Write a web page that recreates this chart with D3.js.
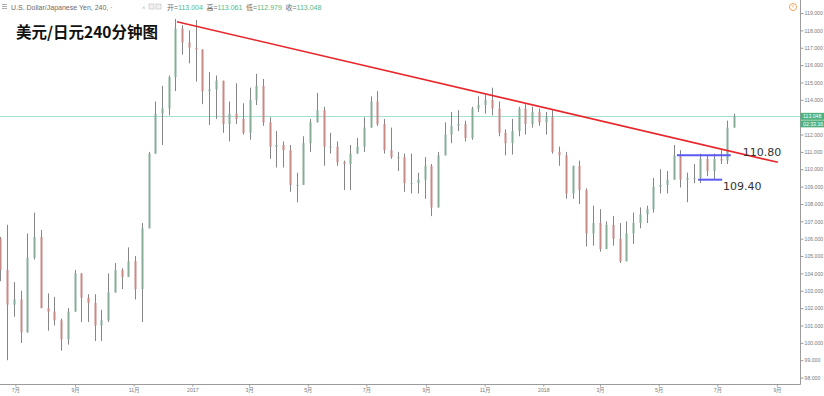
<!DOCTYPE html>
<html lang="zh">
<head>
<meta charset="UTF-8">
<title>美元/日元240分钟图</title>
<style>
  body { margin: 0; background: #fff; }
  svg { display: block; font-family: "Liberation Sans", Arial, sans-serif; }
</style>
<script src="https://cdn.jsdelivr.net/npm/d3@7"></script>
</head>
<body>
<svg id="chart" width="824" height="396"></svg>
<script>
// USD/JPY, one candle per week, first week starts Monday 2016-06-13
var firstWeek = "2016-06-13";
var opens = [
  106.0, 104.2, 102.2, 102.5, 100.6, 104.9, 106.1, 102.0, 101.8, 101.3, 100.2, 101.8, 104.0, 102.6, 102.3,
  101.0, 101.3, 102.9, 104.2, 103.8, 104.7, 103.1, 106.6, 110.9, 113.2, 113.5, 115.3, 118.1, 117.3,
  117.0, 116.9, 114.5, 114.6, 115.1, 112.6, 113.2, 112.9, 112.1, 114.0, 114.8, 112.7, 111.3, 111.4, 111.1,
  109.1, 109.1, 111.5, 112.7, 113.4, 111.3, 111.3, 110.4, 110.3, 110.9, 111.3, 112.4, 113.9, 112.6, 111.1,
  110.7, 110.7, 109.2, 109.2, 109.4, 110.2, 107.8, 110.8, 112.0, 112.5, 112.6, 111.8, 113.5, 113.7, 114.0,
  113.5, 112.1, 111.5, 112.2, 113.5, 112.6, 113.3,
  112.7, 113.0, 111.0, 110.8, 108.6, 110.2, 108.8, 106.3, 106.9, 105.4, 106.8, 106.0, 104.7, 106.3, 106.9,
  107.4, 107.7, 109.0, 109.1, 109.4, 110.8, 109.4, 109.5, 109.5, 110.6, 109.9, 110.6, 110.5, 112.4
];
var highs = [
  106.1, 106.8, 103.5, 103.0, 106.3, 107.5, 106.5, 102.85, 102.65, 101.4, 102.0, 104.2, 104.0, 102.8, 102.8,
  101.9, 104.0, 104.6, 104.3, 105.5, 105.0, 106.9, 111.0, 113.9, 114.8, 115.4, 118.66, 118.3, 118.0,
  118.6, 116.9, 115.6, 115.4, 115.1, 113.9, 114.95, 113.8, 114.7, 115.5, 115.2, 113.0, 112.2, 111.6, 111.4,
  109.8, 111.9, 112.9, 114.4, 113.6, 112.1, 111.6, 110.5, 111.4, 111.8, 113.0, 114.2, 114.5, 112.9, 112.4,
  111.0, 110.9, 110.9, 109.8, 110.7, 110.3, 111.0, 112.7, 113.3, 113.4, 112.8, 113.6, 114.2, 114.3, 114.7,
  113.9, 112.3, 112.9, 113.6, 113.75, 113.6, 113.5,
  113.3, 113.4, 111.3, 111.0, 110.2, 110.5, 108.9, 107.9, 107.7, 107.0, 107.3, 106.9, 107.0, 107.5, 107.8,
  107.9, 109.5, 110.0, 109.9, 111.4, 111.1, 109.8, 110.3, 110.9, 110.8, 110.9, 111.1, 112.8, 113.2
];
var lows = [
  103.55, 99.0, 101.5, 99.99, 100.6, 104.8, 102.0, 100.7, 101.0, 99.55, 99.9, 101.8, 101.2, 101.2, 100.1,
  100.1, 101.2, 102.9, 103.1, 103.8, 102.5, 101.2, 106.6, 110.9, 111.4, 113.1, 114.5, 116.6, 116.1,
  115.05, 113.75, 112.55, 112.9, 112.1, 111.6, 112.6, 112.0, 111.7, 113.7, 112.5, 110.6, 110.1, 110.1, 108.7,
  108.1, 109.1, 111.0, 112.7, 110.2, 110.9, 110.2, 108.8, 108.8, 110.9, 111.0, 112.4, 112.5, 110.9, 110.6,
  109.9, 108.7, 108.6, 108.6, 108.3, 107.3, 107.8, 110.8, 111.5, 112.2, 111.6, 111.7, 113.3, 113.2, 113.1,
  111.9, 110.8, 110.85, 111.9, 112.0, 112.4, 112.5,
  112.0, 110.9, 110.2, 108.3, 108.3, 108.0, 105.55, 105.6, 105.25, 105.4, 105.6, 104.6, 104.7, 105.7, 106.6,
  106.9, 107.5, 108.6, 108.6, 109.4, 108.95, 108.1, 109.2, 109.2, 109.6, 109.4, 110.3, 110.3, 112.4
];
var closes = [
  104.2, 102.2, 102.5, 100.6, 104.9, 106.1, 102.0, 101.8, 101.3, 100.2, 101.8, 104.0, 102.6, 102.3, 101.0,
  101.3, 102.9, 104.2, 103.8, 104.7, 103.1, 106.6, 110.9, 113.2, 113.5, 115.3, 118.1, 117.3, 117.0,
  116.9, 114.5, 114.6, 115.1, 112.6, 113.2, 112.9, 112.1, 114.0, 114.8, 112.7, 111.3, 111.4, 111.1, 109.1,
  109.1, 111.5, 112.7, 113.4, 111.3, 111.3, 110.4, 110.3, 110.9, 111.3, 112.4, 113.9, 112.6, 111.1, 110.7,
  110.7, 109.2, 109.2, 109.4, 110.2, 107.8, 110.8, 112.0, 112.5, 112.6, 111.8, 113.5, 113.7, 114.0, 113.5,
  112.1, 111.5, 112.2, 113.5, 112.6, 113.3, 112.7,
  113.0, 111.0, 110.8, 108.6, 110.2, 108.8, 106.3, 106.9, 105.4, 106.8, 106.0, 104.7, 106.3, 106.9, 107.4,
  107.7, 109.0, 109.1, 109.4, 110.8, 109.4, 109.5, 109.5, 110.6, 109.9, 110.6, 110.5, 112.4, 113.05
];

var xTickDates = ["2016-07-01", "2016-09-01", "2016-11-01", "2017-01-01", "2017-03-01", "2017-05-01", "2017-07-01",
  "2017-09-01", "2017-11-01", "2018-01-01", "2018-03-01", "2018-05-01", "2018-07-01", "2018-09-01"];
var xTickLabels = ["7月", "9月", "11月", "2017", "3月", "5月", "7月", "9月", "11月", "2018", "3月", "5月", "7月", "9月"];
var yTicks = [98, 99, 100, 101, 102, 103, 104, 105, 106, 107, 108, 109, 110, 111, 112, 113, 114, 115, 116, 117, 118, 119];

var lastBar = { open: 113.004, high: 113.061, low: 112.979, close: 113.048 };
var countdown = "02:33:16";
var trendLine = [{ date: "2016-12-16", price: 118.5 }, { date: "2018-09-02", price: 110.4 }];
var levels = [
  { price: 110.80, from: "2018-05-20", to: "2018-07-15" },
  { price: 109.40, from: "2018-06-11", to: "2018-07-06" }
];

var parse = d3.utcParse("%Y-%m-%d");
var W = 800, H = 384;
var svg = d3.select("#chart");

var x = d3.scaleUtc().domain([parse("2016-06-15"), parse("2018-09-25")]).range([0, W]);
var y = d3.scaleLinear().domain([97.63, 119.75]).range([H, 0]);

var candles = opens.map(function(o, i) {
  var monday = d3.utcMonday.offset(parse(firstWeek), i);
  return { t: d3.utcHour.offset(monday, 60), o: o, h: highs[i], l: lows[i], c: closes[i] };
});

svg.append("defs").append("clipPath").attr("id", "plot")
  .append("rect").attr("width", W).attr("height", H);

var plot = svg.append("g").attr("clip-path", "url(#plot)");

// current price line
plot.append("line")
  .attr("x1", 0).attr("x2", W)
  .attr("y1", Math.round(y(lastBar.close)) + 0.5).attr("y2", Math.round(y(lastBar.close)) + 0.5)
  .attr("stroke", "#a6dfcf").attr("stroke-width", 1);

var bw = 2;
var c = plot.selectAll("g.candle").data(candles).enter().append("g").attr("class", "candle");
c.append("line")
  .attr("x1", function(d) { return Math.round(x(d.t)) + 0.5; })
  .attr("x2", function(d) { return Math.round(x(d.t)) + 0.5; })
  .attr("y1", function(d) { return y(d.h); })
  .attr("y2", function(d) { return y(d.l); })
  .attr("stroke", "#858587").attr("stroke-width", 1);
c.append("rect")
  .attr("x", function(d) { return Math.round(x(d.t)) + 0.5 - bw / 2; })
  .attr("y", function(d) { return y(Math.max(d.o, d.c)); })
  .attr("width", bw)
  .attr("height", function(d) { return Math.max(1, Math.abs(y(d.o) - y(d.c))); })
  .attr("fill", function(d) { return d.c >= d.o ? "#86ad98" : "#c98a86"; });

// trend line and levels
plot.append("line")
  .attr("x1", x(parse(trendLine[0].date))).attr("y1", y(trendLine[0].price))
  .attr("x2", x(parse(trendLine[1].date))).attr("y2", y(trendLine[1].price))
  .attr("stroke", "#e8262b").attr("stroke-width", 1.6);

plot.selectAll("line.level").data(levels).enter().append("line")
  .attr("class", "level")
  .attr("x1", function(d) { return x(parse(d.from)); })
  .attr("x2", function(d) { return x(parse(d.to)); })
  .attr("y1", function(d) { return y(d.price); })
  .attr("y2", function(d) { return y(d.price); })
  .attr("stroke", "#5a5af2").attr("stroke-width", 2);

svg.append("text")
  .attr("x", x(parse(levels[0].to)) + 12).attr("y", y(levels[0].price) + 0.5)
  .style("font-family", "DejaVu Sans").style("font-size", "11px").attr("fill", "#333")
  .text(levels[0].price.toFixed(2));
svg.append("text")
  .attr("x", x(parse(levels[1].to)) + 1).attr("y", y(levels[1].price) + 10.5)
  .style("font-family", "DejaVu Sans").style("font-size", "11px").attr("fill", "#333")
  .text(levels[1].price.toFixed(2));

// axes
var yAxis = svg.append("g").attr("transform", "translate(" + (W + 0.5) + ",0)")
  .call(d3.axisRight(y).tickValues(yTicks).tickFormat(d3.format(".3f")).tickSize(3).tickPadding(1));
var xAxis = svg.append("g").attr("transform", "translate(0," + (H + 0.5) + ")")
  .call(d3.axisBottom(x).tickValues(xTickDates.map(parse))
    .tickFormat(function(d, i) { return xTickLabels[i]; }).tickSize(2).tickPadding(2));
[yAxis, xAxis].forEach(function(a) {
  a.select(".domain").attr("stroke", "#9b9b9b");
  a.selectAll(".tick line").attr("stroke", "#9b9b9b");
  a.selectAll("text").attr("fill", "#7a7a7a").style("font-size", "5.2px")
    .style("font-family", "\"Liberation Sans\", \"Noto Sans CJK SC\", sans-serif");
});
yAxis.select(".domain").attr("d", "M0,0V" + (H + 0.5));
xAxis.select(".domain").attr("d", "M0,0H" + (W + 0.5));

// last price tags on the axis
var py = y(lastBar.close);
svg.append("rect").attr("x", W + 0.5).attr("y", py - 3.5).attr("width", 24).attr("height", 7).attr("fill", "#4fb07e");
svg.append("rect").attr("x", W + 0.5).attr("y", py + 4).attr("width", 24).attr("height", 7).attr("fill", "#4fb07e");
svg.append("text").attr("x", W + 3).attr("y", py + 1.8).attr("fill", "#fff").style("font-size", "5.2px")
  .text(lastBar.close.toFixed(3));
svg.append("text").attr("x", W + 3).attr("y", py + 9.3).attr("fill", "#fff").style("font-size", "5.2px")
  .text(countdown);

// header
var menu = svg.append("g").attr("stroke", "#999").attr("stroke-width", 0.8);
[4.5, 6.5, 8.5].forEach(function(v) {
  menu.append("line").attr("x1", 2).attr("x2", 7).attr("y1", v).attr("y2", v);
});
svg.append("text").attr("x", 11).attr("y", 9.5).attr("fill", "#6b6b6b").style("font-size", "7px")
  .text("U.S. Dollar/Japanese Yen, 240, ·");
svg.append("text").attr("x", 142).attr("y", 9.5).attr("fill", "#aaa").style("font-size", "6px").text("˄");
[149, 156].forEach(function(v) {
  svg.append("rect").attr("x", v).attr("y", 4).attr("width", 5).attr("height", 5)
    .attr("fill", "#f2f2f2").attr("stroke", "#bbb").attr("stroke-width", 0.6);
});
var ohlc = [["开", lastBar.open], ["高", lastBar.high], ["低", lastBar.low], ["收", lastBar.close]];
var hdr = svg.append("text").attr("x", 167).attr("y", 9.5).style("font-size", "7px")
  .style("font-family", "\"Liberation Sans\", \"Noto Sans CJK SC\", sans-serif");
ohlc.forEach(function(p, i) {
  hdr.append("tspan").attr("x", 167 + i * 39.5).attr("fill", "#6b6b6b").text(p[0] + "=");
  hdr.append("tspan").attr("fill", "#53b987").text(p[1].toFixed(3));
});

svg.append("circle").attr("cx", 793).attr("cy", 7).attr("r", 3.5)
  .attr("fill", "none").attr("stroke", "#f5a35c").attr("stroke-width", 1);
svg.append("line").attr("x1", 793).attr("x2", 793).attr("y1", 5).attr("y2", 7.5)
  .attr("stroke", "#f5a35c").attr("stroke-width", 0.8);

// title
svg.append("text").attr("x", 16).attr("y", 37.5)
  .style("font-family", "\"Noto Sans CJK SC\", sans-serif").style("font-size", "15.5px").style("font-weight", "bold")
  .attr("fill", "#111")
  .text("美元/日元240分钟图");
</script>
</body>
</html>
